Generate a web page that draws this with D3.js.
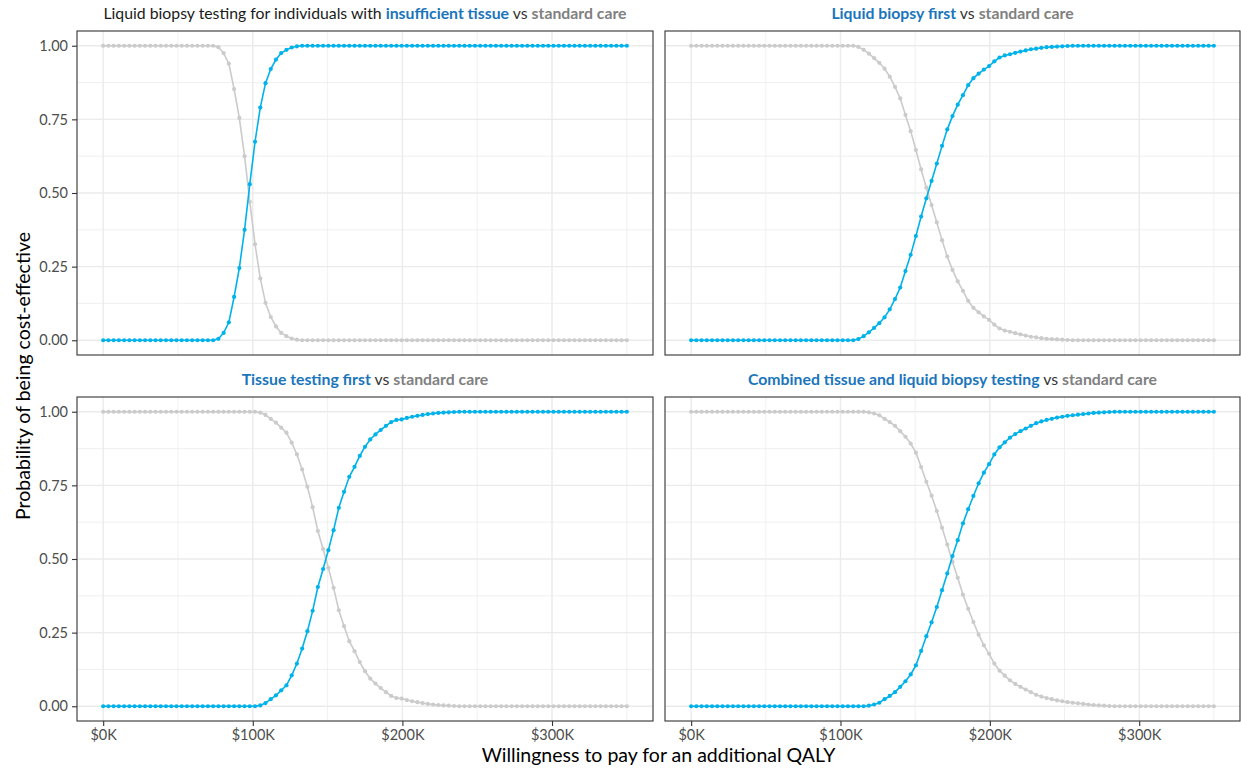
<!DOCTYPE html>
<html><head><meta charset="utf-8">
<script src="https://cdn.jsdelivr.net/npm/d3@7"></script>
<style>
body{margin:0;background:#fff;}
svg{display:block;font-family:Lato,"Open Sans",sans-serif;}
</style>
</head><body>
<svg id="chart" width="1241" height="770"></svg>
<script>
// ---------- DATA ----------
const wtpK = [
  0,3.5,7,10.5,14,17.5,21,24.5,28,31.5,
  35,38.5,42,45.5,49,52.5,56,59.5,63,66.5,
  70,73.5,77,80.5,84,87.5,91,94.5,98,101.5,
  105,108.5,112,115.5,119,122.5,126,129.5,133,136.5,
  140,143.5,147,150.5,154,157.5,161,164.5,168,171.5,
  175,178.5,182,185.5,189,192.5,196,199.5,203,206.5,
  210,213.5,217,220.5,224,227.5,231,234.5,238,241.5,
  245,248.5,252,255.5,259,262.5,266,269.5,273,276.5,
  280,283.5,287,290.5,294,297.5,301,304.5,308,311.5,
  315,318.5,322,325.5,329,332.5,336,339.5,343,346.5,
  350];

const insufficientBlue = [
  0,0,0,0,0,0,0,0,0,0,
  0,0,0,0,0,0,0,0,0,0,
  0,0,0.005,0.025,0.061,0.147,0.245,0.375,0.53,0.674,
  0.79,0.873,0.921,0.953,0.975,0.986,0.994,0.998,1,1,
  1,1,1,1,1,1,1,1,1,1,
  1,1,1,1,1,1,1,1,1,1,
  1,1,1,1,1,1,1,1,1,1,
  1,1,1,1,1,1,1,1,1,1,
  1,1,1,1,1,1,1,1,1,1,
  1,1,1,1,1,1,1,1,1,1,
  1];
const insufficientGray = [
  1,1,1,1,1,1,1,1,1,1,
  1,1,1,1,1,1,1,1,1,1,
  1,1,0.995,0.975,0.939,0.853,0.755,0.625,0.47,0.326,
  0.21,0.127,0.079,0.047,0.025,0.014,0.006,0.002,0,0,
  0,0,0,0,0,0,0,0,0,0,
  0,0,0,0,0,0,0,0,0,0,
  0,0,0,0,0,0,0,0,0,0,
  0,0,0,0,0,0,0,0,0,0,
  0,0,0,0,0,0,0,0,0,0,
  0,0,0,0,0,0,0,0,0,0,
  0];

const liquidFirstBlue = [
  0,0,0,0,0,0,0,0,0,0,
  0,0,0,0,0,0,0,0,0,0,
  0,0,0,0,0,0,0,0,0,0,
  0,0,0.004,0.014,0.027,0.042,0.058,0.078,0.105,0.14,
  0.179,0.235,0.29,0.354,0.42,0.482,0.541,0.6,0.66,0.716,
  0.761,0.8,0.832,0.866,0.89,0.905,0.919,0.931,0.947,0.96,
  0.967,0.971,0.976,0.98,0.984,0.988,0.99,0.993,0.995,0.996,
  0.997,0.998,0.999,1,1,1,1,1,1,1,
  1,1,1,1,1,1,1,1,1,1,
  1,1,1,1,1,1,1,1,1,1,
  1];
const liquidFirstGray = [
  1,1,1,1,1,1,1,1,1,1,
  1,1,1,1,1,1,1,1,1,1,
  1,1,1,1,1,1,1,1,1,1,
  1,1,0.996,0.986,0.973,0.958,0.942,0.922,0.895,0.86,
  0.821,0.765,0.71,0.646,0.58,0.518,0.459,0.4,0.34,0.284,
  0.239,0.2,0.168,0.134,0.11,0.095,0.081,0.069,0.053,0.04,
  0.033,0.029,0.024,0.02,0.016,0.012,0.01,0.007,0.005,0.004,
  0.003,0.002,0.001,0,0,0,0,0,0,0,
  0,0,0,0,0,0,0,0,0,0,
  0,0,0,0,0,0,0,0,0,0,
  0];

const tissueFirstBlue = [
  0,0,0,0,0,0,0,0,0,0,
  0,0,0,0,0,0,0,0,0,0,
  0,0,0,0,0,0,0,0,0,0,
  0.003,0.011,0.024,0.037,0.054,0.071,0.105,0.145,0.196,0.255,
  0.324,0.405,0.466,0.53,0.598,0.674,0.728,0.779,0.813,0.85,
  0.881,0.906,0.923,0.938,0.952,0.965,0.972,0.974,0.979,0.983,
  0.986,0.989,0.992,0.994,0.996,0.997,0.998,0.999,1,1,
  1,1,1,1,1,1,1,1,1,1,
  1,1,1,1,1,1,1,1,1,1,
  1,1,1,1,1,1,1,1,1,1,
  1];
const tissueFirstGray = [
  1,1,1,1,1,1,1,1,1,1,
  1,1,1,1,1,1,1,1,1,1,
  1,1,1,1,1,1,1,1,1,1,
  0.997,0.989,0.976,0.963,0.946,0.929,0.895,0.855,0.804,0.745,
  0.676,0.595,0.534,0.47,0.402,0.326,0.272,0.221,0.187,0.15,
  0.119,0.094,0.077,0.062,0.048,0.035,0.028,0.026,0.021,0.017,
  0.014,0.011,0.008,0.006,0.004,0.003,0.002,0.001,0,0,
  0,0,0,0,0,0,0,0,0,0,
  0,0,0,0,0,0,0,0,0,0,
  0,0,0,0,0,0,0,0,0,0,
  0];

const combinedBlue = [
  0,0,0,0,0,0,0,0,0,0,
  0,0,0,0,0,0,0,0,0,0,
  0,0,0,0,0,0,0,0,0,0,
  0,0,0,0,0.002,0.006,0.012,0.024,0.035,0.048,
  0.066,0.085,0.108,0.139,0.188,0.238,0.285,0.337,0.394,0.451,
  0.51,0.564,0.621,0.669,0.714,0.757,0.793,0.822,0.855,0.879,
  0.896,0.912,0.924,0.934,0.943,0.952,0.961,0.967,0.972,0.976,
  0.98,0.983,0.986,0.988,0.99,0.992,0.994,0.996,0.997,0.998,
  0.999,1,1,1,1,1,1,1,1,1,
  1,1,1,1,1,1,1,1,1,1,
  1];
const combinedGray = [
  1,1,1,1,1,1,1,1,1,1,
  1,1,1,1,1,1,1,1,1,1,
  1,1,1,1,1,1,1,1,1,1,
  1,1,1,1,0.998,0.994,0.988,0.976,0.965,0.952,
  0.934,0.915,0.892,0.861,0.812,0.762,0.715,0.663,0.606,0.549,
  0.49,0.436,0.379,0.331,0.286,0.243,0.207,0.178,0.145,0.121,
  0.104,0.088,0.076,0.066,0.057,0.048,0.039,0.033,0.028,0.024,
  0.02,0.017,0.014,0.012,0.01,0.008,0.006,0.004,0.003,0.002,
  0.001,0,0,0,0,0,0,0,0,0,
  0,0,0,0,0,0,0,0,0,0,
  0];

const titlePrefixes = ["Liquid biopsy testing for individuals with ", "", "", ""];
const titleStrategies = ["insufficient tissue", "Liquid biopsy first", "Tissue testing first", "Combined tissue and liquid biopsy testing"];
const titleVs = " vs ";
const titleComparator = "standard care";

const xTickValues = [0, 100, 200, 300];
const xTickLabels = ["$0K", "$100K", "$200K", "$300K"];
const yTickValues = [0, 0.25, 0.5, 0.75, 1];
const yTickLabels = ["0.00", "0.25", "0.50", "0.75", "1.00"];
const xMinor = [50, 150, 250, 350];
const yMinor = [0.125, 0.375, 0.625, 0.875];

const xAxisTitle = "Willingness to pay for an additional QALY";
const yAxisTitle = "Probability of being cost-effective";

const blueSeries = [insufficientBlue, liquidFirstBlue, tissueFirstBlue, combinedBlue];
const graySeries = [insufficientGray, liquidFirstGray, tissueFirstGray, combinedGray];

// ---------- LAYOUT ----------
const svg = d3.select("#chart");
const FONT = 'Lato,"Open Sans",sans-serif';
const BLUE = "#00b2ea", GRAY = "#cbcbcb", TITLE_BLUE = "#1b75bb", TITLE_GRAY = "#808080";
const cols = [[77, 653], [665, 1240]];
const rows = [[31, 355], [397, 721]];

const panels = [0, 1, 2, 3].map(k => ({k, col: k % 2, row: Math.floor(k / 2)}));

panels.forEach(p => {
  const [x0, x1] = cols[p.col], [y0, y1] = rows[p.row];
  const x = d3.scaleLinear().domain([-17.5, 367.5]).range([x0, x1]);
  const y = d3.scaleLinear().domain([-0.05, 1.05]).range([y1, y0]);
  const g = svg.append("g");

  // grid
  g.selectAll(".vmin").data(xMinor).join("line")
    .attr("x1", d => x(d)).attr("x2", d => x(d)).attr("y1", y0).attr("y2", y1)
    .attr("stroke", "#ebebeb").attr("stroke-width", 0.7);
  g.selectAll(".hmin").data(yMinor).join("line")
    .attr("y1", d => y(d)).attr("y2", d => y(d)).attr("x1", x0).attr("x2", x1)
    .attr("stroke", "#ebebeb").attr("stroke-width", 0.7);
  g.selectAll(".vmaj").data(xTickValues).join("line")
    .attr("x1", d => x(d)).attr("x2", d => x(d)).attr("y1", y0).attr("y2", y1)
    .attr("stroke", "#ebebeb").attr("stroke-width", 1.4);
  g.selectAll(".hmaj").data(yTickValues).join("line")
    .attr("y1", d => y(d)).attr("y2", d => y(d)).attr("x1", x0).attr("x2", x1)
    .attr("stroke", "#ebebeb").attr("stroke-width", 1.4);

  const line = d3.line().x((d, i) => x(wtpK[i])).y(d => y(d));
  [[graySeries[p.k], GRAY], [blueSeries[p.k], BLUE]].forEach(([vals, col]) => {
    g.append("path").datum(vals).attr("d", line)
      .attr("fill", "none").attr("stroke", col).attr("stroke-width", 1.6);
    g.selectAll(null).data(vals).join("circle")
      .attr("cx", (d, i) => x(wtpK[i])).attr("cy", d => y(d)).attr("r", 2.1)
      .attr("fill", col);
  });

  // border
  g.append("rect").attr("x", x0).attr("y", y0).attr("width", x1 - x0).attr("height", y1 - y0)
    .attr("fill", "none").attr("stroke", "#333").attr("stroke-width", 1.1);

  // title
  const t = svg.append("text").attr("x", (x0 + x1) / 2).attr("y", y0 - 12)
    .attr("text-anchor", "middle").attr("font-size", 15.8);
  if (titlePrefixes[p.k]) t.append("tspan").text(titlePrefixes[p.k]).attr("fill", "#1a1a1a");
  t.append("tspan").text(titleStrategies[p.k]).attr("fill", TITLE_BLUE).attr("font-weight", 700);
  t.append("tspan").text(titleVs).attr("fill", "#333").style("white-space", "pre");
  t.append("tspan").text(titleComparator).attr("fill", TITLE_GRAY).attr("font-weight", 700);

  // y axis for left column
  if (p.col === 0) {
    const ax = svg.append("g").attr("transform", `translate(${x0},0)`)
      .call(d3.axisLeft(y).tickValues(yTickValues).tickFormat((d, i) => yTickLabels[i]).tickSize(5).tickPadding(4));
    ax.select(".domain").remove();
    ax.selectAll(".tick line").attr("stroke", "#333").attr("stroke-width", 1.1);
    ax.selectAll(".tick text").attr("fill", "#4d4d4d").attr("font-size", 14.5)
      .attr("font-family", FONT);
  }
  // x axis for bottom row
  if (p.row === 1) {
    const ax = svg.append("g").attr("transform", `translate(0,${y1})`)
      .call(d3.axisBottom(x).tickValues(xTickValues).tickFormat((d, i) => xTickLabels[i]).tickSize(5).tickPadding(4));
    ax.select(".domain").remove();
    ax.selectAll(".tick line").attr("stroke", "#333").attr("stroke-width", 1.1);
    ax.selectAll(".tick text").attr("fill", "#4d4d4d").attr("font-size", 14.5)
      .attr("font-family", FONT);
  }
});

// axis titles
svg.append("text").attr("x", (cols[0][0] + cols[1][1]) / 2).attr("y", 762)
  .attr("text-anchor", "middle").attr("font-size", 19.5).attr("fill", "#000").text(xAxisTitle);
svg.append("text").attr("transform", `translate(30,${(rows[0][0] + rows[1][1]) / 2}) rotate(-90)`)
  .attr("text-anchor", "middle").attr("font-size", 19.5).attr("fill", "#000").text(yAxisTitle);
</script>
</body></html>
